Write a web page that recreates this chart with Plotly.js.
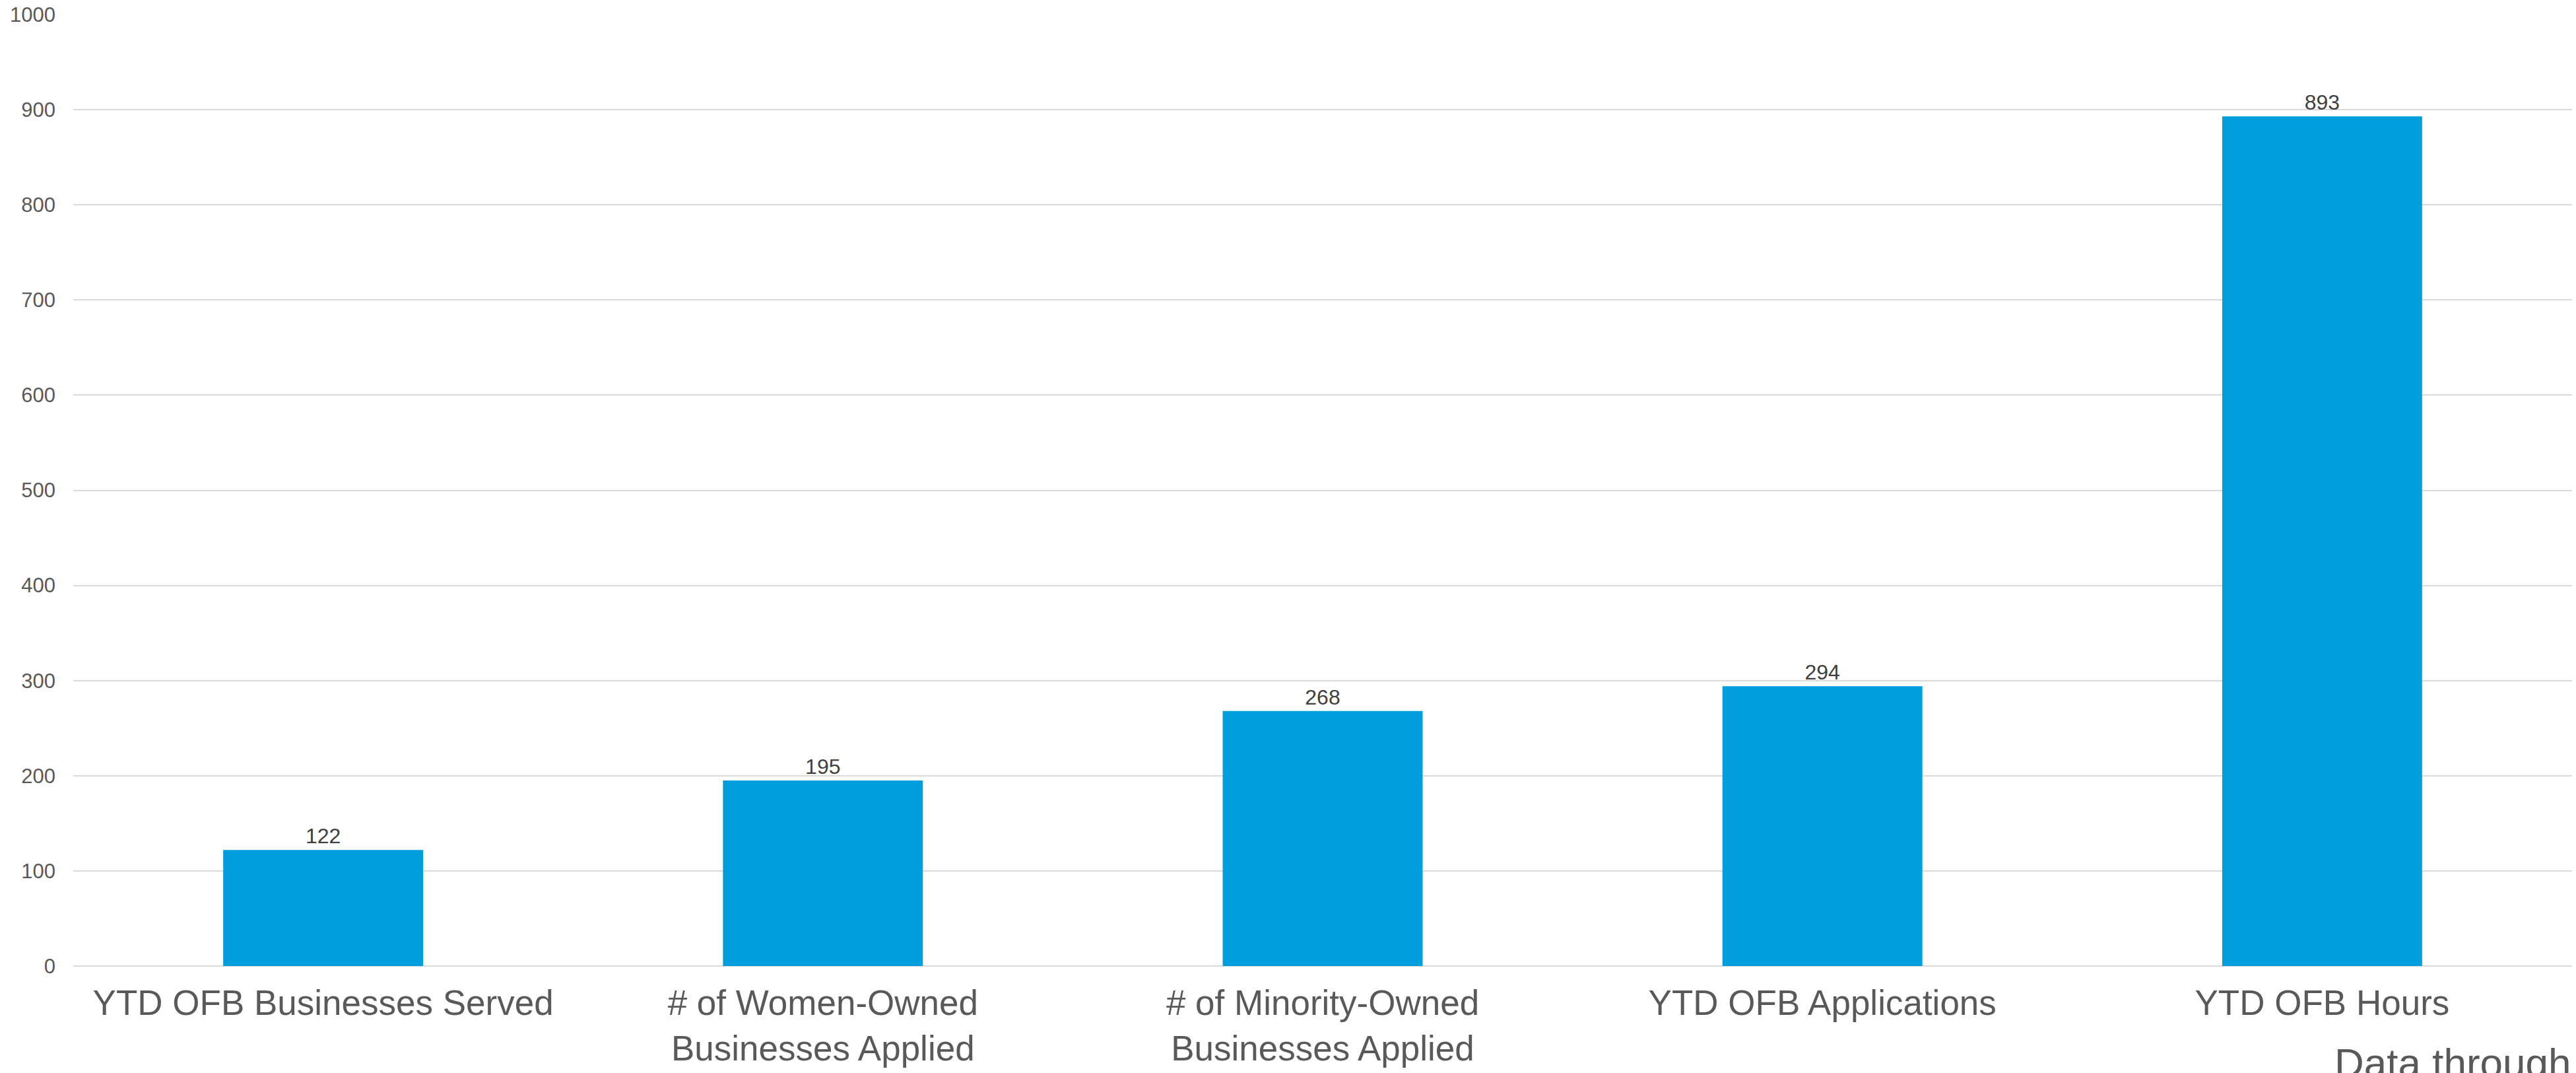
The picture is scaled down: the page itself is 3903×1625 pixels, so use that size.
<!DOCTYPE html>
<html>
<head>
<meta charset="utf-8">
<script src="https://cdn.plot.ly/plotly-3.0.1.min.js"></script>
<style>
  html, body { margin: 0; padding: 0; background: #ffffff; overflow: hidden; }
  #chart { width: 3903px; height: 1625px; }
</style>
</head>
<body>
<div id="chart"></div>
<script>
// Office of Financial Business (OFB) year-to-date activity
const categories = [
  "YTD OFB Businesses Served",
  "# of Women-Owned Businesses Applied",
  "# of Minority-Owned Businesses Applied",
  "YTD OFB Applications",
  "YTD OFB Hours"
];
const tickLabels = [
  "YTD OFB Businesses Served",
  "# of Women-Owned<br>Businesses Applied",
  "# of Minority-Owned<br>Businesses Applied",
  "YTD OFB Applications",
  "YTD OFB Hours"
];
const values = [122, 195, 268, 294, 893];
const yTicks = [0, 100, 200, 300, 400, 500, 600, 700, 800, 900, 1000];
const footnote = "Data through";

const FONT = "'Liberation Sans', Arial, sans-serif";

const trace = {
  type: "bar",
  x: categories,
  y: values,
  text: values.map(String),
  textposition: "outside",
  cliponaxis: false,
  textfont: { family: FONT, size: 32, color: "#404040" },
  marker: { color: "#009EDC", line: { width: 0 } },
  hoverinfo: "x+y"
};

const layout = {
  width: 3903,
  height: 1625,
  margin: { l: 111, r: 6, t: 22, b: 162, pad: 0 },
  paper_bgcolor: "#ffffff",
  plot_bgcolor: "#ffffff",
  showlegend: false,
  bargap: 0.6,
  font: { family: FONT, color: "#595959" },
  xaxis: {
    type: "category",
    tickmode: "array",
    tickvals: categories,
    ticktext: tickLabels,
    tickfont: { family: FONT, size: 53, color: "#595959" },
    ticks: "",
    showgrid: false,
    showline: false,
    zeroline: false,
    ticklabelstandoff: 20,
    automargin: false
  },
  yaxis: {
    range: [0, 1000],
    tickmode: "array",
    tickvals: yTicks,
    ticktext: yTicks.map(String),
    tickfont: { family: FONT, size: 31, color: "#595959" },
    ticks: "",
    showgrid: true,
    gridcolor: "#d9d9d9",
    gridwidth: 2,
    zeroline: true,
    zerolinecolor: "#d9d9d9",
    zerolinewidth: 2,
    showline: false,
    ticklabelstandoff: 26,
    automargin: false
  },
  annotations: [{
    text: footnote,
    xref: "paper", yref: "paper",
    x: 1, y: 0,
    xanchor: "right", yanchor: "top",
    yshift: -110,
    showarrow: false,
    font: { family: FONT, size: 62, color: "#595959" }
  }]
};

Plotly.newPlot("chart", [trace], layout, { displayModeBar: false, staticPlot: true });
</script>
</body>
</html>
